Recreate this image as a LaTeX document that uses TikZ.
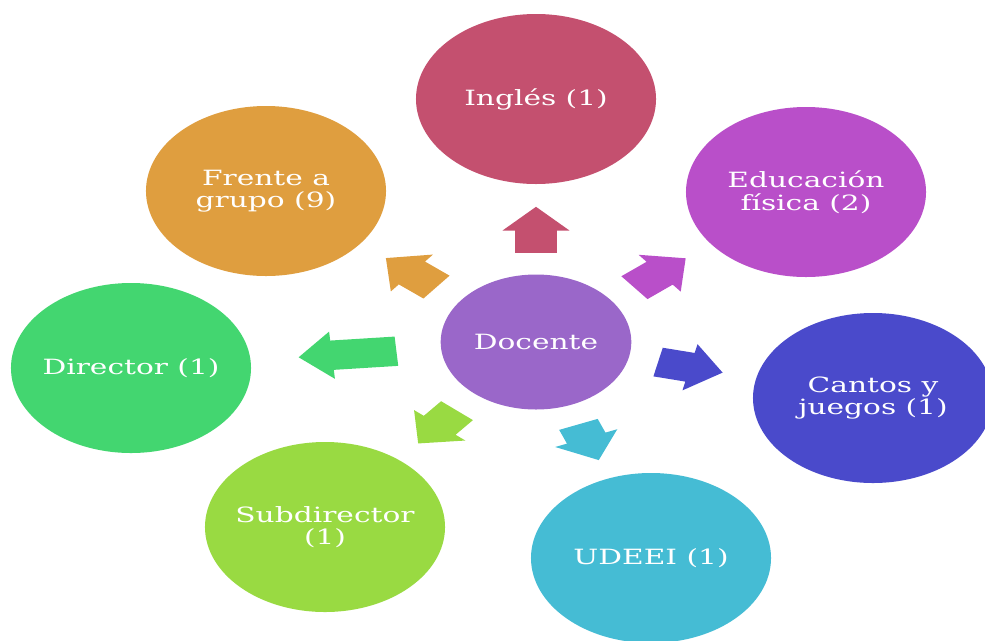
\documentclass[tikz,border=0pt]{standalone}
\usepackage{fontspec}
\setmainfont{DejaVu Serif}
\usetikzlibrary{shapes.arrows}
\definecolor{Violeta}{HTML}{9A67C9}
\definecolor{Rosa}{HTML}{C4506F}
\definecolor{Magenta}{HTML}{B94FC9}
\definecolor{Indigo}{HTML}{4A4ACB}
\definecolor{Cian}{HTML}{45BCD4}
\definecolor{Lima}{HTML}{99DA42}
\definecolor{Verde}{HTML}{43D670}
\definecolor{Naranja}{HTML}{DF9E3F}

\begin{document}
\begin{tikzpicture}[x=0.7082pt, y=-1pt, xscale=1.412,
    every node/.style={transform shape},
    bubble/.style={circle, minimum size=170pt, inner sep=0pt, text=white,
                   font=\fontsize{21}{22.5}\selectfont, align=center},
    pointer/.style={single arrow, single arrow head extend=9pt,
                    inner xsep=0pt, inner ysep=14.5pt, anchor=tail,
                    text height=0pt, text depth=0pt}]
    \useasboundingbox (0,0) rectangle (985,640);

    % Outer bubbles
    \foreach \nm/\x/\y/\col/\txt in {
        ingles/536/99/Rosa/{Inglés (1)},
        edfis/806/192/Magenta/{Educación\\física (2)},
        cantos/873/398/Indigo/{Cantos y\\juegos (1)},
        udeei/651/558/Cian/{UDEEI (1)},
        subdir/325/527/Lima/{Subdirector\\(1)},
        director/131/368/Verde/{Director (1)},
        frente/266/191/Naranja/{Frente a\\grupo (9)}} {
        \node[bubble, fill=\col] (\nm) at (\x, \y) {\txt};
    }

    % Centre
    \node[bubble, minimum size=135pt, fill=Violeta] (doc) at (536, 342) {Docente};

    % Block arrows (placed by their tails)
    \foreach \nm/\x/\y/\ang/\len/\col in {
        ingles/536/253/90/46/Rosa,
        edfis/634.2/287.8/39/46.7/Magenta,
        cantos/657.8/362/-13/46.9/Indigo,
        udeei/578.3/424.2/-68/38.5/Cian,
        subdir/457.2/410.5/230/42.8/Lima,
        director/396.7/351.2/185/69.5/Verde,
        frente/436.7/287.2/141/46.1/Naranja} {
        \node[pointer, fill=\col, minimum height=\len pt, rotate=\ang]
            (a\nm) at (\x, \y) {};
    }
\end{tikzpicture}
\end{document}
